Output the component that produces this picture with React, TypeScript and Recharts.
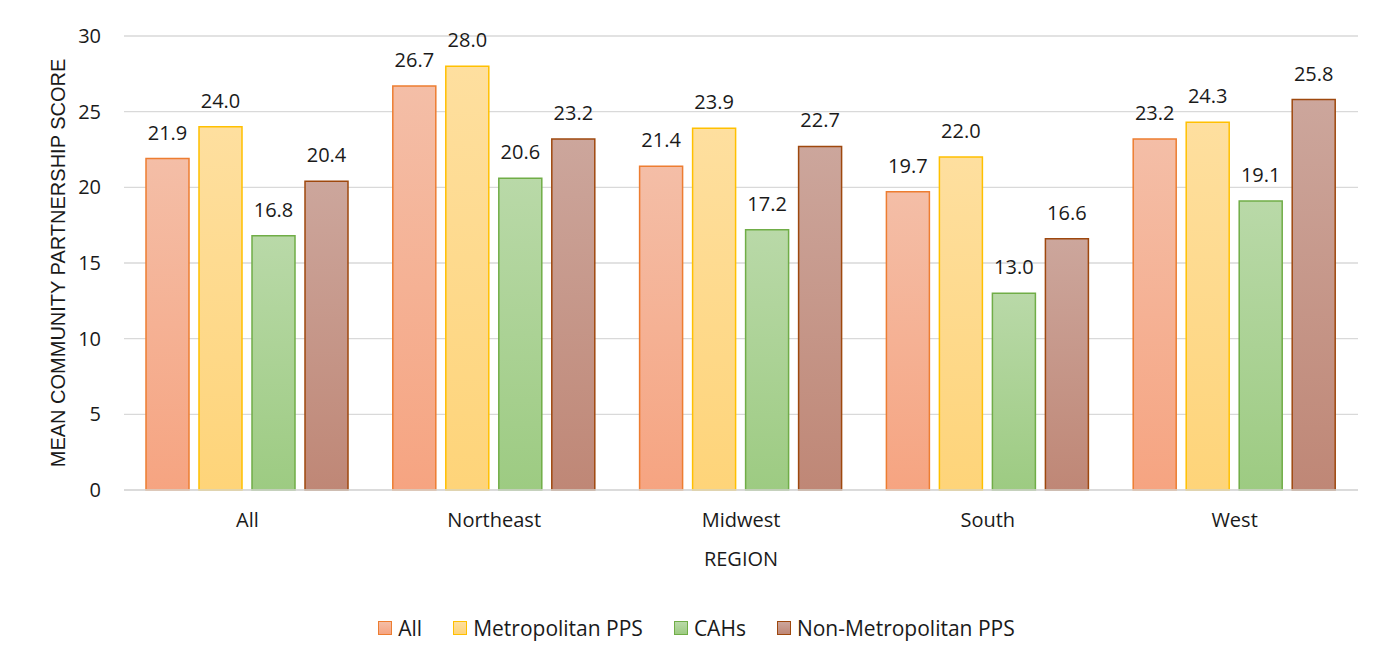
import React from "react";
import {
  Bar,
  BarChart,
  CartesianGrid,
  LabelList,
  XAxis,
  YAxis,
} from "recharts";

const regions = ["All", "Northeast", "Midwest", "South", "West"];
const allScores = [21.9, 26.7, 21.4, 19.7, 23.2];
const metroScores = [24.0, 28.0, 23.9, 22.0, 24.3];
const cahScores = [16.8, 20.6, 17.2, 13.0, 19.1];
const nonMetroScores = [20.4, 23.2, 22.7, 16.6, 25.8];
const yTicks = [0, 5, 10, 15, 20, 25, 30];

const series = [
  { key: "all", name: "All", top: "#F4BEA7", bottom: "#F6A481", stroke: "#ED7D31" },
  { key: "metro", name: "Metropolitan PPS", top: "#FEDF9F", bottom: "#FED479", stroke: "#FFC000" },
  { key: "cah", name: "CAHs", top: "#B9D9A8", bottom: "#9DCB82", stroke: "#70AD47" },
  { key: "nonMetro", name: "Non-Metropolitan PPS", top: "#CCA69C", bottom: "#BF8776", stroke: "#9E480E" },
];

const data = regions.map((region, i) => ({
  region,
  all: allScores[i],
  metro: metroScores[i],
  cah: cahScores[i],
  nonMetro: nonMetroScores[i],
}));

const font = "'Open Sans', sans-serif";
const textColor = "#1a1a1a";

function Legend() {
  return (
    <div
      style={{
        position: "absolute",
        top: 606,
        left: 0,
        width: "100%",
        display: "flex",
        justifyContent: "center",
        gap: 31,
        fontFamily: font,
        fontSize: 21,
        color: textColor,
      }}
    >
      {series.map((s) => (
        <div key={s.key} style={{ display: "flex", alignItems: "center", gap: 6 }}>
          <span
            style={{
              width: 12,
              height: 12,
              border: `1.5px solid ${s.stroke}`,
              background: `linear-gradient(${s.top}, ${s.bottom})`,
              display: "inline-block",
            }}
          />
          <span>{s.name}</span>
        </div>
      ))}
    </div>
  );
}

export default function App() {
  return (
    <div
      style={{
        position: "relative",
        width: 1381,
        height: 670,
        marginLeft: -2,
        marginTop: -2,
        border: "2px solid #d9d9d9",
        boxSizing: "border-box",
        background: "#fff",
      }}
    >
      <BarChart
        width={1377}
        height={570}
        data={data}
        margin={{ top: 28, right: 27, bottom: 0, left: 0 }}
        barCategoryGap={22}
        barGap={10}
      >
        <defs>
          {series.map((s) => (
            <linearGradient key={s.key} id={`grad-${s.key}`} x1="0" y1="0" x2="0" y2="1">
              <stop offset="0%" stopColor={s.top} />
              <stop offset="100%" stopColor={s.bottom} />
            </linearGradient>
          ))}
        </defs>
        <CartesianGrid vertical={false} stroke="#d9d9d9" strokeWidth={1.3} />
        <XAxis
          dataKey="region"
          height={88}
          tickLine={false}
          axisLine={{ stroke: "#d9d9d9", strokeWidth: 1.3 }}
          tickSize={0}
          tickMargin={23}
          tick={{ fontFamily: font, fontSize: 20, fill: textColor }}
          label={{
            value: "REGION",
            position: "insideBottom",
            offset: 12,
            style: { fontFamily: font, fontSize: 20, fill: textColor },
          }}
        />
        <YAxis
          width={116}
          domain={[0, 30]}
          ticks={yTicks}
          tickLine={false}
          axisLine={false}
          tickSize={0}
          tickMargin={23}
          tick={{ fontFamily: font, fontSize: 20, fill: textColor }}
          label={{
            value: "MEAN COMMUNITY PARTNERSHIP SCORE",
            angle: -90,
            position: "insideLeft",
            offset: 50,
            style: {
              textAnchor: "middle",
              fontFamily: "'Liberation Sans', Arial, sans-serif",
              fontSize: 20,
              fill: textColor,
            },
          }}
        />
        {series.map((s) => (
          <Bar
            key={s.key}
            dataKey={s.key}
            name={s.name}
            fill={`url(#grad-${s.key})`}
            stroke={s.stroke}
            strokeWidth={1.5}
            isAnimationActive={false}
          >
            <LabelList
              dataKey={s.key}
              position="top"
              offset={19}
              formatter={(v: any) => Number(v).toFixed(1)}
              style={{ fontFamily: font, fontSize: 20, fill: textColor }}
            />
          </Bar>
        ))}
      </BarChart>
      <Legend />
    </div>
  );
}
